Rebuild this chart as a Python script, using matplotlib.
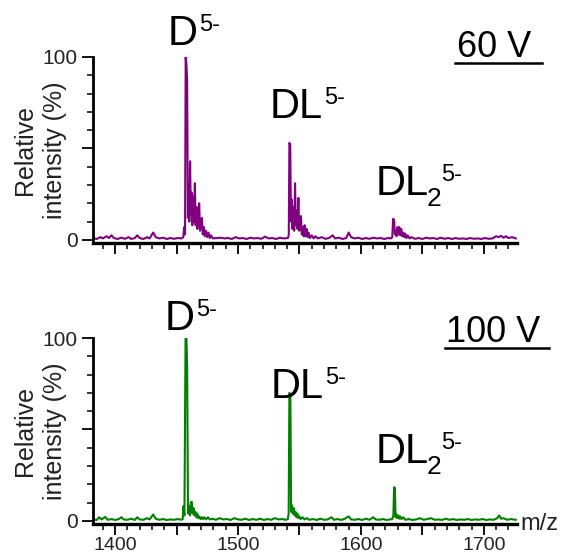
import matplotlib
matplotlib.use("Agg")
import matplotlib.pyplot as plt
from matplotlib.ticker import MultipleLocator, FixedLocator, FuncFormatter

plt.rcParams['font.family'] = ['Liberation Sans', 'DejaVu Sans']

# spectrum at 60 V (m/z, relative intensity %)
mz_60 = [1382, 1385, 1388, 1390, 1393, 1395, 1397, 1399, 1402, 1405, 1408, 1411, 1413, 1416,
         1418, 1420, 1423, 1426, 1428, 1431, 1433, 1436, 1439, 1442, 1445, 1448, 1451, 1454,
         1455.5, 1456.2, 1456.9, 1457.4, 1458.0, 1458.6, 1459.2, 1459.8, 1460.4, 1461.0, 1461.6,
         1462.2, 1462.8, 1463.6, 1464.2, 1464.9, 1465.5, 1466.2, 1466.9, 1467.6, 1468.4, 1469.1,
         1469.8, 1470.6, 1471.3, 1472.2, 1473, 1474, 1475, 1476, 1477, 1478, 1479.5,
         1482, 1486, 1489, 1492, 1495, 1498, 1501, 1504, 1507, 1510, 1513, 1516, 1519, 1522,
         1525, 1528, 1531, 1534, 1537, 1540,
         1540.8, 1541.3, 1541.8, 1542.5, 1543.1, 1543.7, 1544.3, 1545.0, 1545.7, 1546.4, 1547.0,
         1547.7, 1548.4, 1549.1, 1549.8, 1550.5, 1551.2, 1551.9, 1552.6, 1553.4, 1554.2, 1555,
         1555.8, 1556.6, 1557.4, 1558.5, 1560, 1561.5, 1563, 1565,
         1568, 1571, 1574, 1577, 1579, 1582, 1585, 1588, 1590, 1592, 1595, 1598, 1601, 1604,
         1607, 1610, 1613, 1616, 1619, 1622, 1624.5,
         1625.5, 1626.2, 1627, 1627.6, 1628.3, 1629, 1629.8, 1630.5, 1631.2, 1632, 1632.8,
         1633.5, 1634.4, 1635.2, 1636, 1637, 1638, 1639.5, 1641,
         1644, 1647, 1650, 1653, 1656, 1659, 1662, 1665, 1668, 1671, 1674, 1677, 1680, 1683,
         1686, 1689, 1692, 1695, 1698, 1701, 1704, 1707, 1710, 1712, 1714, 1716, 1718, 1720,
         1723, 1726]
int_60 = [1.0, 0.5, 1.5, 0.8, 2.0, 1.0, 2.5, 1.0, 0.5, 1.2, 0.6, 1.5, 0.5, 1.0,
          2.5, 1.0, 0.5, 1.5, 0.8, 4.0, 1.5, 0.8, 1.2, 0.5, 1.0, 0.6, 1.0, 0.8,
          1.5, 7, 3, 100, 96, 88, 12, 28, 10, 43, 14,
          26, 8, 24, 10, 31, 8, 18, 6, 14, 20, 5,
          10, 12, 3, 7, 2, 5, 1.5, 4, 1, 2.5, 0.8,
          1.0, 1.2, 0.8, 1.0, 0.5, 1.5, 0.8, 1.0, 0.5, 1.2, 0.8, 1.0, 0.6, 1.8,
          0.8, 1.0, 0.5, 1.2, 0.8, 1.0,
          1.2, 3, 53, 52, 10, 22, 6, 18, 5, 31, 8,
          16, 6, 23, 5, 10, 13, 3, 7, 2, 8, 2,
          6, 1.5, 4, 1, 2.5, 0.8, 2, 0.8,
          1.5, 0.6, 1.0, 2.5, 0.8, 1.2, 0.5, 1.0, 4.0, 1.5, 0.8, 1.2, 0.5, 1.0,
          0.6, 1.2, 0.8, 1.0, 0.5, 1.0, 0.8,
          1.5, 11.5, 11, 3, 5, 2, 7, 3, 7, 2.5, 6,
          2, 4, 1.5, 3.5, 1, 2.5, 0.8, 1.5,
          0.6, 1.0, 0.5, 1.2, 0.8, 1.0, 0.5, 1.2, 0.6, 1.0, 0.5, 1.0, 0.6, 0.8,
          0.5, 1.0, 0.6, 0.8, 0.5, 1.0, 0.6, 0.8, 2.0, 1.5, 2.2, 1.2, 2.0, 1.0,
          1.5, 0.8]

# spectrum at 100 V
mz_100 = [1382, 1385, 1387, 1389, 1392, 1394, 1397, 1400, 1403, 1405, 1407, 1410, 1413, 1416,
          1418, 1420, 1423, 1426, 1428, 1431, 1433, 1436, 1439, 1442, 1445, 1448, 1451, 1454,
          1455, 1455.6, 1456.4, 1457.3, 1458.0, 1458.6, 1459.3, 1460.2, 1460.9, 1461.6, 1462.3,
          1463, 1463.8, 1464.5, 1465.3, 1466, 1466.8, 1467.6, 1468.5, 1469.5, 1470.5, 1471.5,
          1472.5, 1474, 1475.5, 1477, 1479,
          1482, 1485, 1488, 1491, 1494, 1497, 1500, 1503, 1506, 1509, 1512, 1515, 1518, 1521,
          1524, 1527, 1530, 1533, 1536, 1539,
          1540.5, 1541.2, 1541.8, 1542.6, 1543.2, 1543.9, 1544.6, 1545.3, 1546, 1546.8, 1547.5,
          1548.3, 1549.2, 1550, 1551, 1552.5, 1554, 1556, 1558,
          1561, 1564, 1567, 1570, 1573, 1576, 1578, 1581, 1584, 1587, 1590, 1592, 1595, 1598,
          1601, 1604, 1607, 1610, 1612, 1615, 1618, 1621, 1624,
          1625.5, 1626.4, 1627.0, 1627.6, 1628.2, 1628.9, 1629.6, 1630.4, 1631.2, 1632, 1633,
          1634.5, 1636,
          1639, 1642, 1645, 1648, 1651, 1654, 1657, 1660, 1663, 1666, 1669, 1672, 1675, 1678,
          1681, 1684, 1687, 1690, 1693, 1696, 1699, 1702, 1705, 1708, 1711, 1712.5, 1714, 1716,
          1719, 1722, 1726]
int_100 = [0.8, 0.5, 2.0, 0.8, 2.2, 0.6, 1.0, 0.5, 1.0, 2.0, 0.8, 0.6, 1.2, 0.5,
           2.0, 0.8, 0.6, 1.5, 0.8, 3.5, 1.2, 0.6, 1.0, 0.5, 0.8, 0.6, 1.0, 0.6,
           1.0, 8, 3, 100, 100, 85, 4, 8, 3, 10, 10.5,
           4, 7, 3, 5, 2, 4, 1.5, 2.5, 1, 2, 1,
           2, 0.8, 2, 0.8, 1.2,
           0.6, 1.5, 0.8, 1.0, 0.5, 1.5, 0.8, 0.6, 1.2, 0.5, 1.0, 0.6, 1.2, 0.5,
           1.0, 0.6, 1.5, 0.8, 1.0, 0.6,
           1.0, 4, 70, 69, 5, 8.5, 4, 7, 3, 5, 2,
           4, 1.5, 2.5, 1, 2, 0.8, 1.5, 0.6,
           1.0, 0.5, 1.2, 0.6, 0.8, 2.0, 0.6, 1.0, 0.5, 1.2, 2.5, 0.8, 0.6, 1.0,
           0.5, 1.2, 0.6, 2.0, 0.8, 0.6, 1.0, 0.5, 0.8,
           1.0, 3, 18.4, 18, 2, 3.5, 1.5, 3, 1.2, 2.5, 1,
           2, 0.6,
           1.0, 0.5, 0.8, 1.5, 0.6, 1.0, 1.5, 0.6, 0.8, 0.5, 1.2, 0.6, 1.0, 0.5,
           0.8, 0.6, 1.0, 0.5, 0.8, 0.6, 1.0, 0.5, 0.8, 0.6, 1.5, 3.0, 1.2, 1.5,
           0.6, 1.0, 0.6]

x_labels = [1400, 1500, 1600, 1700]

W, H = 564, 556
fig = plt.figure(figsize=(W / 100, H / 100), dpi=100)


def px(x, y):
    return x / W, 1 - y / H


def setup_axis(ax, show_xlabels):
    ax.set_xlim(1382, 1727)
    ax.set_ylim(-1.7, 100)
    for s in ['top', 'right']:
        ax.spines[s].set_visible(False)
    ax.spines['bottom'].set_linewidth(2.4)
    ax.spines['left'].set_linewidth(2.0)
    ax.spines['left'].set_bounds(-1.7, 100)
    ax.xaxis.set_major_locator(MultipleLocator(50))
    ax.xaxis.set_minor_locator(MultipleLocator(10))
    ax.yaxis.set_major_locator(FixedLocator([0, 50, 100]))
    ax.yaxis.set_minor_locator(MultipleLocator(10))
    ax.tick_params(which='major', direction='out', length=8, width=1.3, labelsize=14, pad=1,
                   colors='black', labelcolor='#222222')
    ax.tick_params(axis='y', which='major', labelsize=15, pad=3)
    ax.tick_params(which='minor', direction='out', length=4, width=1.1)
    ax.yaxis.set_major_formatter(FuncFormatter(lambda v, p: f'{int(v)}' if v in (0, 100) else ''))
    if show_xlabels:
        ax.xaxis.set_major_formatter(FuncFormatter(
            lambda v, p: f'{int(v)}' if int(round(v)) in x_labels else ''))
    else:
        ax.xaxis.set_major_formatter(FuncFormatter(lambda v, p: ''))


ax1 = fig.add_axes([93 / W, 1 - 243 / H, 424 / W, 186 / H])
ax1.plot(mz_60, int_60, color='#800080', lw=1.5)
setup_axis(ax1, False)

ax2 = fig.add_axes([93 / W, 1 - 524 / H, 424 / W, 186 / H])
ax2.plot(mz_100, int_100, color='#008000', lw=1.5)
setup_axis(ax2, True)

renderer = fig.canvas.get_renderer()


def ion_label(x, y, main, sub=None):
    t = fig.text(*px(x, y), main, fontsize=30, ha='left', va='baseline')
    right = t.get_window_extent(renderer).x1  # display px, origin bottom
    top = H - y + 21  # cap height above baseline
    if sub is not None:
        s = fig.text((right - 2) / W, (H - y - 11) / H, sub, fontsize=19,
                     ha='left', va='baseline')
        right = s.get_window_extent(renderer).x1 - 2
    fig.text((right + 1) / W, (top + 10) / H, '5-', fontsize=17, ha='left', va='top')


# top panel labels
ion_label(168, 45, 'D')
ion_label(270, 118, 'DL')
ion_label(376, 195, 'DL', sub='2')
# bottom panel labels
ion_label(165, 330, 'D')
ion_label(271, 398, 'DL')
ion_label(376, 463, 'DL', sub='2')

# voltage labels, underlined
fig.text(*px(457, 57), '60 V', fontsize=26, ha='left', va='baseline')
fig.add_artist(plt.Line2D([455 / W, 542 / W], [1 - 63 / H, 1 - 63 / H], color='black', lw=1.8))
fig.text(*px(446, 342), '100 V', fontsize=26, ha='left', va='baseline')
fig.add_artist(plt.Line2D([445 / W, 549 / W], [1 - 348 / H, 1 - 348 / H], color='black', lw=1.8))

for yc in (150, 431):
    fig.text(*px(40, yc), 'Relative\nintensity (%)', fontsize=18, rotation=90,
             ha='center', va='center', multialignment='center', linespacing=1.3,
             color='#222222')

fig.text(*px(520, 530), 'm/z', fontsize=17, ha='left', va='baseline', color='#222222')

fig.savefig('out.png', dpi=100)
